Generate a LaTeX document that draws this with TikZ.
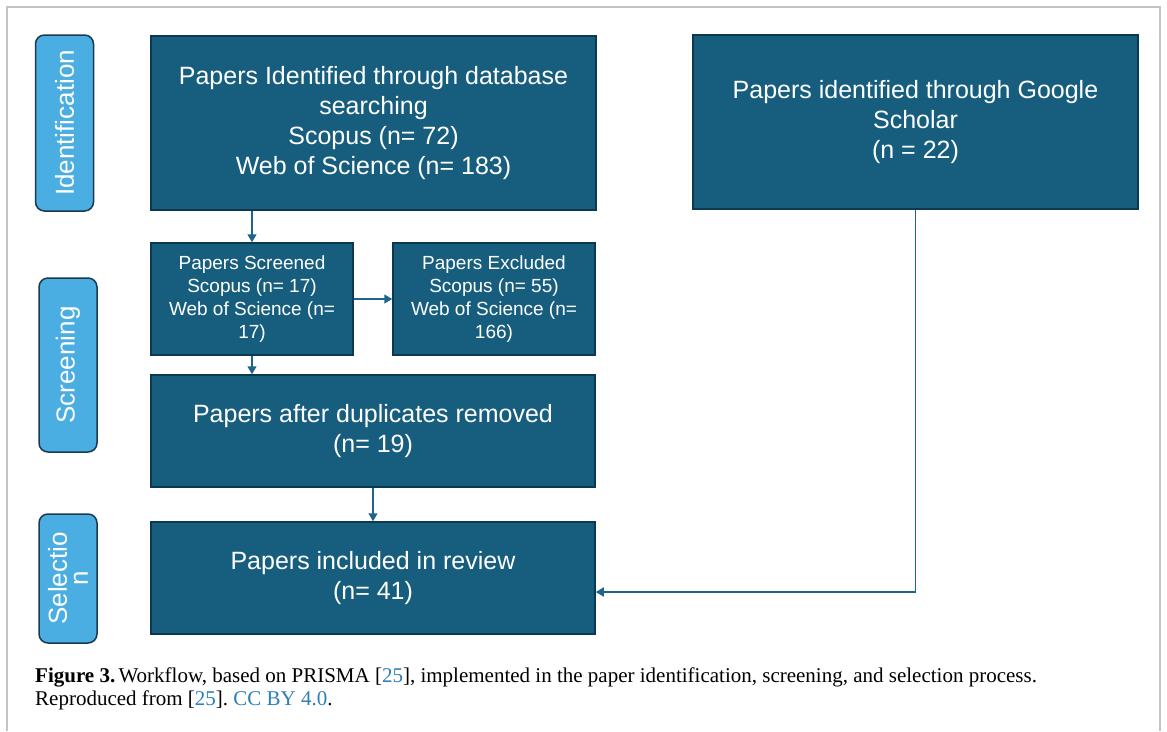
\documentclass[tikz,border=0pt]{standalone}
\usepackage{fontspec}
\setmainfont{Liberation Serif}
\newfontfamily\arial{Liberation Sans}
\usetikzlibrary{arrows.meta,calc}
\frenchspacing
\definecolor{boxfill}{HTML}{175E7E}
\definecolor{boxline}{HTML}{0B3A50}
\definecolor{labfill}{HTML}{4BAEE2}
\definecolor{labline}{HTML}{1B3A4E}
\definecolor{arrcol}{HTML}{1E648C}
\definecolor{framecol}{HTML}{C4C4C4}
\definecolor{linkcol}{HTML}{2C7FB8}
\tikzset{
  bigbox/.style={draw=boxline, line width=1.5pt, fill=boxfill, text=white, inner sep=0pt,
    align=center, font=\arial\fontsize{25}{30}\selectfont},
  smallbox/.style={draw=boxline, line width=1.5pt, fill=boxfill, text=white, inner sep=0pt,
    align=center, font=\arial\fontsize{19}{23}\selectfont},
  stagelabel/.style={draw=labline, line width=1.5pt, fill=labfill, text=white, inner sep=0pt,
    rounded corners=9pt, rotate=90, align=center, minimum height=58pt,
    font=\arial\fontsize{26}{25}\selectfont},
  arr/.style={draw=arrcol, line width=1.6pt, -{Triangle[width=9pt,length=8pt]}}
}
\begin{document}
\begin{tikzpicture}[x=1pt,y=-1pt]
\useasboundingbox (0,0) rectangle (1167,731);
\fill[white] (0,0) rectangle (1167,731);
\draw[framecol, line width=1.2pt] (7,731) -- (7,7) -- (1160,7) -- (1160,731);

% stage labels
\node[stagelabel, minimum width=176pt] (lid) at (64.5,123) {Identification};
\node[stagelabel, minimum width=174pt] (lsc) at (68,365) {Screening};
\node[stagelabel, minimum width=129pt] (lse) at (68,578.5) {Selectio\\[-4pt]n};

% boxes
\node[bigbox, minimum width=445pt, minimum height=174pt] (db) at (373.5,123)
  {Papers Identified through database\\searching\\Scopus (n= 72)\\Web of Science (n= 183)};
\node[bigbox, minimum width=445pt, minimum height=174pt] (gs) at (915.5,122)
  {Papers identified through Google\\Scholar\\(n = 22)};
\node[smallbox, minimum width=202pt, minimum height=112pt] (scr) at (252,299)
  {Papers Screened\\Scopus (n= 17)\\Web of Science (n=\\17)};
\node[smallbox, minimum width=202pt, minimum height=112pt] (exc) at (494,299)
  {Papers Excluded\\Scopus (n= 55)\\Web of Science (n=\\166)};
\node[bigbox, minimum width=444pt, minimum height=112pt] (dup) at (373,431)
  {Papers after duplicates removed\\(n= 19)};
\node[bigbox, minimum width=444pt, minimum height=112pt] (inc) at (373,578)
  {Papers included in review\\(n= 41)};

% connectors
\draw[arr] (scr.north |- db.south) -- (scr.north);
\draw[arr] (scr.east) -- (exc.west);
\draw[arr] (scr.south) -- (scr.south |- dup.north);
\draw[arr] (dup.south) -- (inc.north);
\draw[arr] (gs.south) |- ([yshift=-14pt]inc.east);

% caption
\node[anchor=base west, inner sep=0pt, align=left, font=\fontsize{21}{23}\selectfont] (cap) at (35,705)
  {\textbf{Figure 3.}\hspace{-2pt} Workflow, based on PRISMA [\textcolor{linkcol}{25}], implemented in the paper identification, screening, and selection process.\\
   Reproduced from [\textcolor{linkcol}{25}]. \textcolor{linkcol}{CC BY 4.0}.};
\end{tikzpicture}
\end{document}
